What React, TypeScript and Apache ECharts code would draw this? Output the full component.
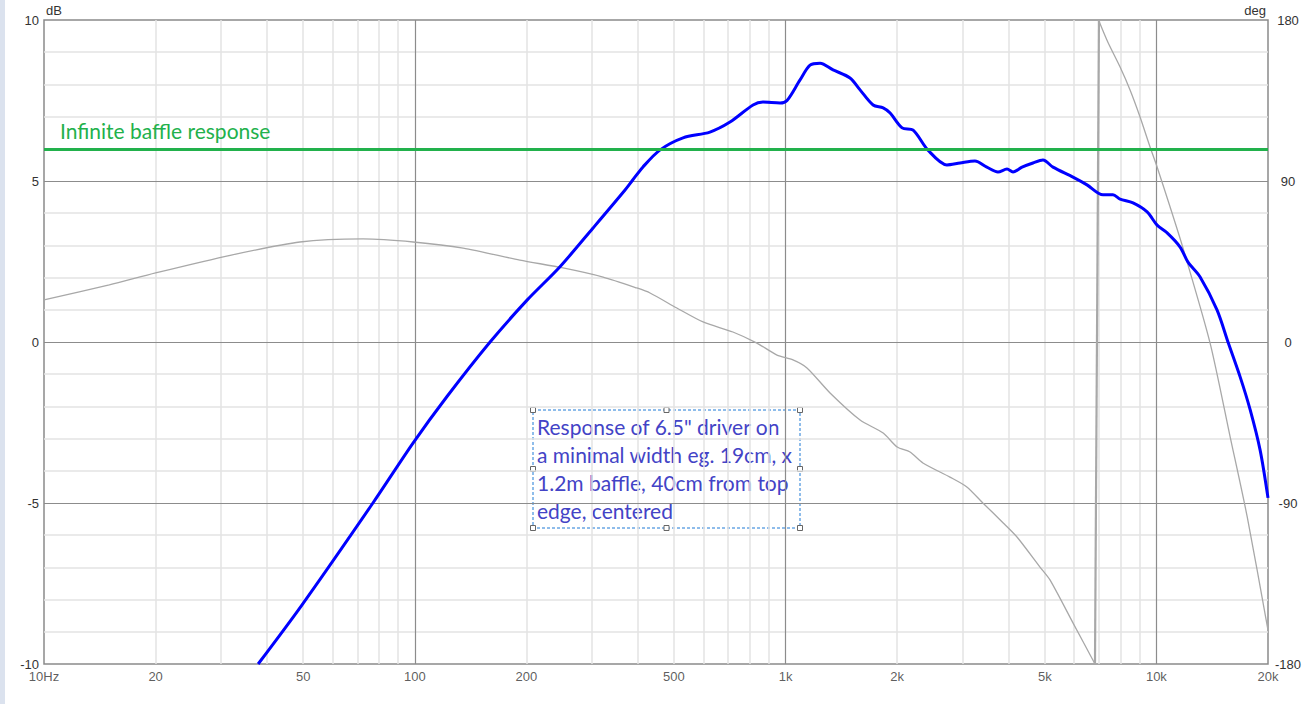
import React, { useEffect, useRef } from "react";
import * as echarts from "echarts";

// ---------- data ----------
const xTickValues = [10, 20, 50, 100, 200, 500, 1000, 2000, 5000, 10000, 20000];
const xTickLabels = ["10Hz", "20", "50", "100", "200", "500", "1k", "2k", "5k", "10k", "20k"];
const xMinorGrid = [
  20, 30, 40, 50, 60, 70, 80, 90,
  200, 300, 400, 500, 600, 700, 800, 900,
  2000, 3000, 4000, 5000, 6000, 7000, 8000, 9000,
];
const xMajorGrid = [100, 1000, 10000];
const yMinorGrid = [-9, -8, -7, -6, -4, -3, -2, -1, 1, 2, 3, 4, 6, 7, 8, 9];
const yMajorGrid = [-5, 0, 5];

// magnitude (dB) vs frequency (Hz)
const magnitude: [number, number][] = [
  [37.8, -10.0], [49.6, -8.17], [77.1, -5.0], [98.9, -3.14], [122, -1.7],
  [159.6, 0], [200.8, 1.3], [246, 2.33], [302.5, 3.54],
  [369, 4.72], [387, 5.03], [412, 5.43], [458, 5.96], [529, 6.34],
  [625, 6.52], [708, 6.83], [817, 7.36], [869, 7.45], [966, 7.42],
  [1009, 7.5], [1094, 8.14], [1164, 8.6], [1239, 8.66], [1343, 8.45],
  [1492, 8.2], [1588, 7.83], [1722, 7.36], [1833, 7.27], [1914, 7.11],
  [2062, 6.65], [2208, 6.58], [2421, 5.96], [2723, 5.5], [2954, 5.56],
  [3241, 5.62], [3490, 5.43], [3740, 5.28], [3955, 5.37], [4105, 5.28],
  [4342, 5.43], [4646, 5.56], [4945, 5.65], [5262, 5.43], [5957, 5.12],
  [6500, 4.88], [7178, 4.57], [7638, 4.57], [7982, 4.44], [8650, 4.32],
  [9442, 4.04], [10045, 3.63], [10690, 3.39], [11588, 2.95], [12170, 2.48],
  [13120, 2.02], [14580, 0.99], [15600, 0], [16830, -1.09], [17900, -2.1],
  [19040, -3.35], [20000, -4.84],
];

// phase (deg) vs frequency (Hz), before the wrap at -180/+180
const phaseLow: [number, number][] = [
  [10, 23.5], [15, 31.9], [20, 38.6], [32, 48.6], [49, 55.9], [72.5, 57.6],
  [99, 55.9], [135, 52.5], [192, 45.8], [251, 41.4], [322, 36.3], [397, 30.2],
  [431, 27.4], [509, 19], [599, 11.2], [721, 5.6], [837, -0.6], [948, -7.3],
  [1047, -10], [1142, -14.5], [1318, -28.5], [1588, -43.6], [1833, -50.9],
  [2000, -58.7], [2166, -61.5], [2346, -67.6], [2775, -75.5], [3082, -81],
  [3405, -90], [3857, -101], [4208, -109], [4854, -125.8], [5165, -133],
  [5957, -157], [6830, -180],
];
// phase after the wrap
const phaseHigh: [number, number][] = [
  [7000, 180], [7046, 178], [7395, 167.7], [7982, 153.7], [8492, 140.9],
  [9036, 125.8], [9616, 109], [10045, 97.8], [10890, 75.5], [11800, 52.5],
  [13960, -0.6], [15810, -53], [17580, -97.8], [20000, -161],
];

const baffleLevel = 6;
const baffleLabel = "Infinite baffle response";
const noteLines = [
  'Response of 6.5" driver on',
  "a minimal width eg. 19cm, x",
  "1.2m baffle, 40cm from top",
  "edge, centered",
];

const AXIS_FONT = "'Liberation Sans', Arial, sans-serif";
const NOTE_FONT = "Lato, 'Open Sans', sans-serif";

export default function App() {
  const ref = useRef<HTMLDivElement>(null);

  useEffect(() => {
    if (!ref.current) return;
    const chart = echarts.init(ref.current, undefined, { renderer: "svg" });

    const lightLine = { color: "#e3e3e3", width: 1.5, type: "solid" as const };
    const darkLine = { color: "#8c8c8c", width: 1.2, type: "solid" as const };

    const gridLines = [
      ...xMinorGrid.map((v) => ({ xAxis: v, lineStyle: lightLine })),
      ...yMinorGrid.map((v) => ({ yAxis: v, lineStyle: lightLine })),
      ...xMajorGrid.map((v) => ({ xAxis: v, lineStyle: darkLine })),
      ...yMajorGrid.map((v) => ({ yAxis: v, lineStyle: darkLine })),
    ];

    const wrapSegment = [phaseLow[phaseLow.length - 1], phaseHigh[0]];

    const bx = 533, by = 410, bw = 267, bh = 118;
    const handlePts = [
      [bx, by], [bx + bw / 2, by], [bx + bw, by],
      [bx, by + bh / 2], [bx + bw, by + bh / 2],
      [bx, by + bh], [bx + bw / 2, by + bh], [bx + bw, by + bh],
    ];

    const phaseStyle = { color: "#a8a8a8", width: 1.3 };

    chart.setOption({
      animation: false,
      backgroundColor: "#ffffff",
      grid: {
        left: 44,
        top: 20,
        right: 45,
        bottom: 40,
        show: true,
        borderColor: "#8a8a8a",
        borderWidth: 1.5,
        backgroundColor: "#ffffff",
      },
      xAxis: {
        type: "log",
        logBase: 10,
        min: 10,
        max: 20000,
        axisLine: { show: false },
        axisTick: { show: false },
        axisLabel: { show: false },
        splitLine: { show: false },
      },
      yAxis: [
        {
          type: "value",
          min: -10,
          max: 10,
          interval: 5,
          name: "dB",
          nameLocation: "end",
          nameGap: 3,
          nameTextStyle: {
            align: "left",
            verticalAlign: "bottom",
            color: "#333",
            fontFamily: AXIS_FONT,
            fontSize: 13,
            padding: [0, 0, 0, 2],
          },
          axisLine: { show: false },
          axisTick: { show: false },
          splitLine: { show: false },
          axisLabel: {
            color: "#333",
            fontFamily: AXIS_FONT,
            fontSize: 13,
            margin: 5,
            padding: [0, 0, 4, 0],
          },
        },
        {
          type: "value",
          min: -180,
          max: 180,
          interval: 90,
          position: "right",
          name: "deg",
          nameLocation: "end",
          nameGap: 3,
          nameTextStyle: {
            align: "right",
            verticalAlign: "bottom",
            color: "#333",
            fontFamily: AXIS_FONT,
            fontSize: 13,
            padding: [0, 2, 0, 0],
          },
          axisLine: { show: false },
          axisTick: { show: false },
          splitLine: { show: false },
          axisLabel: {
            color: "#333",
            fontFamily: AXIS_FONT,
            fontSize: 13,
            margin: 20,
            align: "center",
          },
        },
      ],
      series: [
        {
          name: "ticks",
          type: "scatter",
          yAxisIndex: 0,
          symbolSize: 0,
          silent: true,
          clip: false,
          z: 1,
          data: xTickValues.map((v, i) => ({ value: [v, -10], name: xTickLabels[i] })),
          label: {
            show: true,
            position: "bottom",
            distance: 6,
            formatter: (p: any) => p.name,
            color: "#333",
            fontFamily: AXIS_FONT,
            fontSize: 13,
          },
          markLine: {
            z: 1,
            silent: true,
            symbol: "none",
            label: { show: false },
            data: gridLines,
          },
        },
        {
          name: "Phase",
          type: "line",
          yAxisIndex: 1,
          data: phaseLow,
          showSymbol: false,
          smooth: 0.25,
          lineStyle: phaseStyle,
          z: 3,
          silent: true,
        },
        {
          name: "Phase wrap",
          type: "line",
          yAxisIndex: 1,
          data: wrapSegment,
          showSymbol: false,
          lineStyle: { color: "#a8a8a8", width: 2.2 },
          z: 3,
          silent: true,
        },
        {
          name: "Phase ",
          type: "line",
          yAxisIndex: 1,
          data: phaseHigh,
          showSymbol: false,
          smooth: 0.25,
          lineStyle: phaseStyle,
          z: 3,
          silent: true,
        },
        {
          name: "Magnitude",
          type: "line",
          yAxisIndex: 0,
          data: magnitude,
          showSymbol: false,
          smooth: 0.3,
          lineStyle: { color: "#0000ff", width: 3 },
          z: 4,
          silent: true,
          markLine: {
            z: 6,
            silent: true,
            symbol: "none",
            lineStyle: { color: "#22b14c", width: 3, type: "solid" },
            label: {
              show: true,
              position: "insideStartTop",
              formatter: baffleLabel,
              color: "#22b14c",
              fontSize: 21,
              fontFamily: NOTE_FONT,
              distance: 8,
              padding: [0, 0, 0, 8],
            },
            data: [{ yAxis: baffleLevel }],
          },
        },
      ],
      graphic: [
        {
          type: "rect",
          shape: { x: 0, y: 0, width: 5, height: 704 },
          style: { fill: "#dbe2ee" },
          silent: true,
        },
        {
          type: "group",
          z: 100,
          children: [
            {
              type: "rect",
              shape: { x: bx, y: by, width: bw, height: bh },
              style: { fill: "none", stroke: "#1f7ad6", lineWidth: 1, lineDash: [3, 2] },
            },
            ...handlePts.map(([hx, hy]) => ({
              type: "rect",
              shape: { x: hx - 2.5, y: hy - 2.5, width: 5, height: 5 },
              style: { fill: "#ffffff", stroke: "#666666", lineWidth: 1 },
            })),
            {
              type: "text",
              x: bx + 4,
              y: by + 2,
              style: {
                text: noteLines.join("\n"),
                fill: "#4343c6",
                fontSize: 21,
                fontFamily: NOTE_FONT,
                lineHeight: 28,
              },
            },
          ],
        },
      ],
    });

    return () => chart.dispose();
  }, []);

  return (
    <div
      ref={ref}
      style={{ position: "fixed", left: 0, top: 0, width: 1313, height: 704 }}
    />
  );
}
